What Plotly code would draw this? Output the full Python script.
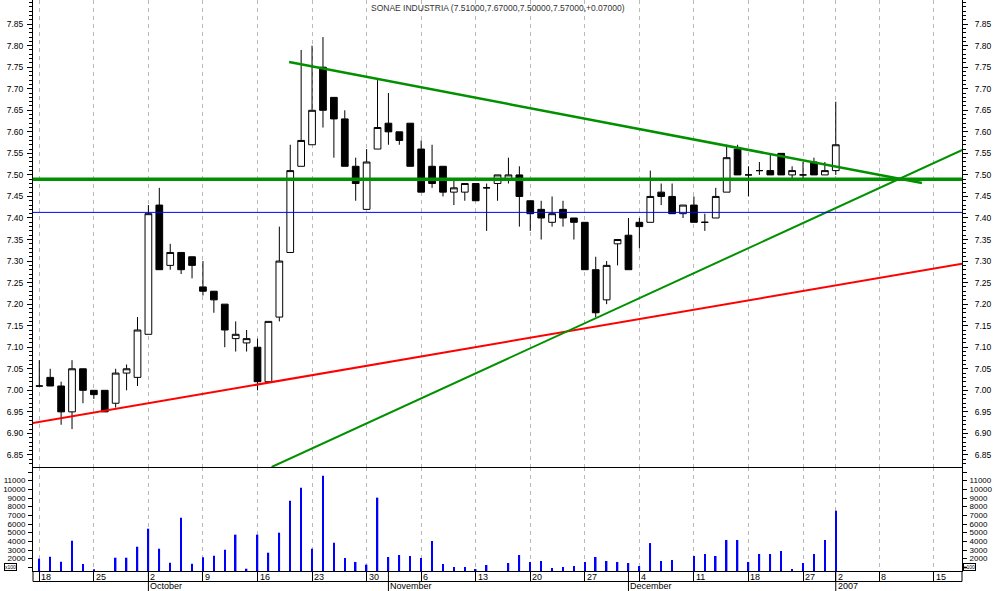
import pandas as pd
import plotly.graph_objects as go

# trading sessions (Euronext Lisbon), used as the x categories
sessions = pd.bdate_range("2006-09-18", "2007-01-15", freq="C",
                          holidays=["2006-12-25", "2006-12-26", "2007-01-01"])
pos = {d.strftime("%Y-%m-%d"): i for i, d in enumerate(sessions)}

opens = [7.01, 7.03, 7.01, 6.95, 7.05, 7.00, 7.00, 6.97, 7.04, 7.03,
         7.13, 7.43, 7.29, 7.32, 7.31, 7.24, 7.23, 7.20, 7.12, 7.11,
         7.10, 7.02, 7.17, 7.32, 7.52, 7.57, 7.75, 7.68, 7.63, 7.52,
         7.42, 7.56, 7.62, 7.60, 7.62, 7.56, 7.52, 7.52, 7.46, 7.46,
         7.48, 7.47, 7.48, 7.49, 7.50, 7.44, 7.42, 7.39, 7.42, 7.40,
         7.39, 7.28, 7.21, 7.34, 7.36, 7.39, 7.39, 7.46, 7.45, 7.41,
         7.43, 7.39, 7.40, 7.46, 7.56, 7.50, 7.51, 7.51, 7.55, 7.50,
         7.50, 7.53, 7.50, 7.51]
highs = [7.07, 7.05, 7.02, 7.07, 7.05, 7.00, 7.00, 7.05, 7.06, 7.17,
         7.43, 7.47, 7.34, 7.32, 7.31, 7.30, 7.23, 7.20, 7.16, 7.14,
         7.12, 7.16, 7.38, 7.57, 7.79, 7.80, 7.82, 7.68, 7.65, 7.54,
         7.56, 7.72, 7.69, 7.60, 7.62, 7.58, 7.57, 7.52, 7.49, 7.48,
         7.48, 7.48, 7.50, 7.54, 7.52, 7.44, 7.44, 7.45, 7.44, 7.40,
         7.39, 7.31, 7.30, 7.35, 7.40, 7.40, 7.51, 7.48, 7.48, 7.43,
         7.45, 7.41, 7.47, 7.57, 7.57, 7.52, 7.53, 7.55, 7.55, 7.52,
         7.53, 7.54, 7.53, 7.67]
lows = [7.01, 7.01, 6.92, 6.91, 6.97, 6.98, 6.95, 6.96, 7.00, 7.01,
        7.13, 7.28, 7.28, 7.27, 7.26, 7.22, 7.18, 7.10, 7.09, 7.09,
        7.00, 7.02, 7.16, 7.32, 7.52, 7.57, 7.61, 7.54, 7.52, 7.44,
        7.42, 7.56, 7.57, 7.57, 7.52, 7.46, 7.47, 7.45, 7.43, 7.44,
        7.44, 7.37, 7.44, 7.48, 7.38, 7.37, 7.35, 7.38, 7.38, 7.35,
        7.28, 7.17, 7.20, 7.29, 7.28, 7.33, 7.39, 7.43, 7.41, 7.40,
        7.39, 7.37, 7.40, 7.46, 7.50, 7.45, 7.50, 7.50, 7.50, 7.49,
        7.49, 7.50, 7.50, 7.50]
closes = [7.01, 7.01, 6.95, 7.05, 7.00, 6.99, 6.95, 7.04, 7.05, 7.14,
          7.41, 7.28, 7.32, 7.28, 7.29, 7.23, 7.21, 7.14, 7.13, 7.12,
          7.02, 7.16, 7.30, 7.51, 7.58, 7.65, 7.65, 7.63, 7.52, 7.48,
          7.53, 7.61, 7.60, 7.58, 7.52, 7.46, 7.48, 7.46, 7.47, 7.48,
          7.44, 7.47, 7.50, 7.50, 7.45, 7.41, 7.40, 7.41, 7.40, 7.39,
          7.28, 7.18, 7.29, 7.35, 7.28, 7.38, 7.45, 7.45, 7.41, 7.43,
          7.39, 7.39, 7.45, 7.54, 7.50, 7.50, 7.51, 7.50, 7.50, 7.51,
          7.50, 7.50, 7.51, 7.57]
# volume in hundreds of shares
volumes = [2000, 2230, 1650, 4070, 1380, 770, 300, 2110, 2110, 3380,
           5460, 3150, 1530, 6730, 1420, 2150, 2340, 3030, 4770, 840,
           4770, 2690, 5000, 8690, 10190, 3150, 11570, 3840, 2080, 1620,
           1310, 9040, 2190, 2420, 2310, 2080, 4040, 1380, 1040, 1040,
           810, 1270, 300, 1500, 2420, 1620, 1730, 920, 1040, 1150,
           1620, 2190, 1730, 1620, 1500, 1150, 3800, 1730, 1850, 300,
           2310, 2540, 2310, 4150, 4150, 1620, 2540, 2540, 2880, 810,
           1500, 2540, 4150, 7540]

week_ticks = ["2006-09-18", "2006-09-25", "2006-10-02", "2006-10-09", "2006-10-16",
              "2006-10-23", "2006-10-30", "2006-11-06", "2006-11-13", "2006-11-20",
              "2006-11-27", "2006-12-04", "2006-12-11", "2006-12-18", "2006-12-27",
              "2007-01-02", "2007-01-08", "2007-01-15"]
week_labels = ["18", "25", "2", "9", "16", "23", "30", "6", "13", "20",
               "27", "4", "11", "18", "27", "2", "8", "15"]
month_starts = ["2006-10-02", "2006-11-01", "2006-12-01", "2007-01-02"]
month_labels = ["October", "November", "December", "2007"]

price_ticks = [6.85, 6.90, 6.95, 7.00, 7.05, 7.10, 7.15, 7.20, 7.25, 7.30, 7.35,
               7.40, 7.45, 7.50, 7.55, 7.60, 7.65, 7.70, 7.75, 7.80, 7.85]
vol_ticks = [1000, 2000, 3000, 4000, 5000, 6000, 7000, 8000, 9000, 10000, 11000, 12000]
vol_labels = ["", "2000", "3000", "4000", "5000", "6000", "7000", "8000",
              "9000", "10000", "11000", ""]

# drawn studies: (x in sessions, price)
red_x, red_y = [-0.6, 84.6], [6.924, 7.294]
up_x, up_y = [21.3, 84.6], [6.822, 7.558]
down_x, down_y = [22.9, 80.9], [7.762, 7.481]
flat_x = [-0.6, 84.6]
green_level = 7.49
blue_level = 7.413

title_text = "SONAE INDUSTRIA (7.51000,7.67000,7.50000,7.57000,+0.07000)"

x = list(range(len(opens)))
week_x = [pos[d] for d in week_ticks]
month_x = [pos[d] for d in month_starts]
xr = [-0.577, 84.57]
price_range = [6.822, 7.906]
vol_range = [577, 12577]
PH = 571
split = 104 / PH
FONT = "Liberation Sans, Arial, sans-serif"

fig = go.Figure()
fig.add_trace(go.Bar(x=x, y=volumes, xaxis="x2", yaxis="y2", width=0.14,
                     marker=dict(color="#0000ff", line=dict(width=0)),
                     hoverinfo="skip"))
fig.add_trace(go.Candlestick(
    x=x, open=opens, high=highs, low=lows, close=closes,
    xaxis="x", yaxis="y", whiskerwidth=0,
    increasing=dict(line=dict(color="black", width=1), fillcolor="white"),
    decreasing=dict(line=dict(color="black", width=1), fillcolor="black"),
    hoverinfo="skip"))
fig.add_trace(go.Scatter(x=red_x, y=red_y, mode="lines",
                         line=dict(color="#ff0000", width=2)))
fig.add_trace(go.Scatter(x=up_x, y=up_y, mode="lines",
                         line=dict(color="#009000", width=2)))
fig.add_trace(go.Scatter(x=down_x, y=down_y, mode="lines",
                         line=dict(color="#009000", width=2.5)))
fig.add_trace(go.Scatter(x=flat_x, y=[green_level, green_level], mode="lines",
                         line=dict(color="#009000", width=3.5)))
fig.add_trace(go.Scatter(x=flat_x, y=[blue_level, blue_level], mode="lines",
                         line=dict(color="#0000ff", width=1)))
# carriers for the right-hand axes
fig.add_trace(go.Scatter(x=[x[0]], y=[closes[0]], xaxis="x", yaxis="y3",
                         mode="markers", marker=dict(opacity=0), hoverinfo="skip"))
fig.add_trace(go.Scatter(x=[x[0]], y=[volumes[0]], xaxis="x2", yaxis="y4",
                         mode="markers", marker=dict(opacity=0), hoverinfo="skip"))

grid = dict(showgrid=True, gridcolor="#b8b8b8", griddash="4px,4px", gridwidth=1,
            tickmode="array", tickvals=week_x, range=xr, zeroline=False,
            automargin=False)
price_ax = dict(domain=[split, 1], range=price_range,
                tickmode="array", tickvals=price_ticks,
                ticktext=[f"{v:.2f}" for v in price_ticks],
                ticks="outside", ticklen=5, tickcolor="black", showgrid=False,
                zeroline=False, showline=True, linecolor="black", linewidth=1,
                automargin=False, tickfont=dict(size=8.5),
                minor=dict(tickmode="linear", tick0=6.80, dtick=0.01,
                           ticks="outside", ticklen=3, tickcolor="black"))
vol_ax = dict(domain=[0, split], range=vol_range, tickmode="array",
              tickvals=vol_ticks, ticktext=vol_labels, ticks="outside", ticklen=4,
              tickcolor="black", showgrid=False, zeroline=False, showline=True,
              linecolor="black", linewidth=1, automargin=False,
              tickfont=dict(size=8))

annotations = [dict(x=0.5, xref="paper", y=1, yref="paper", yanchor="middle",
                    yshift=-8, text=title_text, showarrow=False,
                    font=dict(size=8.5, color="#333333"))]
for wx, wl in zip(week_x, week_labels):
    annotations.append(dict(x=wx, xref="x2", y=0, yref="paper", xanchor="left",
                            yanchor="middle", xshift=0, yshift=-6, text=wl,
                            showarrow=False, font=dict(size=9)))
for mx, ml in zip(month_x, month_labels):
    annotations.append(dict(x=mx, xref="x2", y=0, yref="paper", xanchor="left",
                            yanchor="middle", xshift=0, yshift=-15, text=ml,
                            showarrow=False, font=dict(size=9)))
for xp, xs, anchor in [(0, -16, "right"), (1, 1, "left")]:
    annotations.append(dict(x=xp, xref="paper", y=0, yref="paper", xanchor=anchor,
                            yanchor="bottom", xshift=xs, yshift=0, text="x100",
                            showarrow=False, font=dict(size=5),
                            bordercolor="black", borderwidth=1, borderpad=0))

# crisp 1px rules: put them on half pixels
sep = 103.5 / PH
row = -10.5 / PH
black = dict(color="black", width=1)
shapes = [dict(type="line", xref="paper", yref="paper", x0=0, x1=1, y0=sep, y1=sep,
               line=black),
          dict(type="line", xref="paper", yref="paper", x0=0, x1=1, y0=row, y1=row,
               line=black),
          dict(type="line", xref="paper", yref="paper", x0=0, x1=0, y0=0, y1=row,
               line=black),
          dict(type="line", xref="paper", yref="paper", x0=1, x1=1, y0=0, y1=row,
               line=black)]
for mx in month_x:
    shapes.append(dict(type="line", xref="x2", yref="paper", x0=mx, x1=mx,
                       y0=0, y1=-20 / PH, line=black))

fig.update_layout(
    width=994, height=591, margin=dict(l=33, r=32, t=0, b=20),
    paper_bgcolor="white", plot_bgcolor="white", showlegend=False,
    hovermode=False, boxgap=0.12,
    font=dict(family=FONT, size=9, color="black"),
    xaxis=dict(anchor="y", domain=[0, 1], showticklabels=False, ticks="",
               rangeslider=dict(visible=False), **grid),
    xaxis2=dict(anchor="y2", domain=[0, 1], showticklabels=False, ticks="outside",
                ticklen=10, tickcolor="black", showline=True, linecolor="black",
                linewidth=1, **grid),
    yaxis=dict(anchor="x", side="left", ticklabelstandoff=2, **price_ax),
    yaxis3=dict(anchor="x", overlaying="y", side="right", ticklabelstandoff=5,
                **price_ax),
    yaxis2=dict(anchor="x2", side="left", ticklabelstandoff=1, **vol_ax),
    yaxis4=dict(anchor="x2", overlaying="y2", side="right", ticklabelstandoff=1,
                **vol_ax),
    annotations=annotations, shapes=shapes,
)

# the page body has a default 8px margin; remove it so the chart sits at 0,0
fig.write_html("out.html", config={"displayModeBar": False},
               post_script="document.body.style.margin='0px';")
